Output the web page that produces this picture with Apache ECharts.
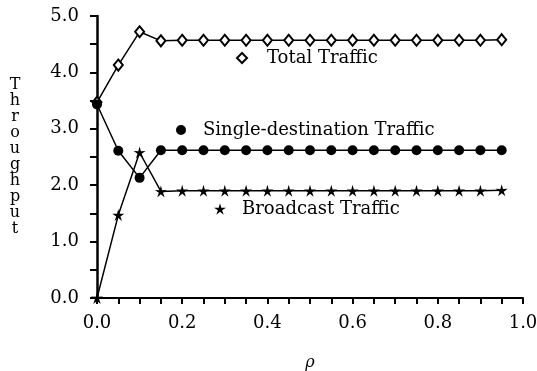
<!DOCTYPE html>
<html>
<head>
<meta charset="utf-8">
<script src="https://cdn.jsdelivr.net/npm/echarts@6/dist/echarts.min.js"></script>
<style>
  html, body { margin: 0; padding: 0; background: #fff; }
  #chart { width: 537px; height: 371px; }
</style>
</head>
<body>
<div id="chart"></div>
<script>
// rho values (x axis)
const rho = [0.00, 0.05, 0.10, 0.15, 0.20, 0.25, 0.30, 0.35, 0.40, 0.45,
             0.50, 0.55, 0.60, 0.65, 0.70, 0.75, 0.80, 0.85, 0.90, 0.95];

// Throughput per traffic type
const totalTraffic = [3.47, 4.13, 4.72, 4.56, 4.57, 4.57, 4.57, 4.57, 4.57, 4.57,
                      4.57, 4.57, 4.57, 4.57, 4.57, 4.57, 4.57, 4.57, 4.57, 4.58];
const singleTraffic = [3.43, 2.61, 2.13, 2.62, 2.62, 2.62, 2.62, 2.62, 2.62, 2.62,
                       2.62, 2.62, 2.62, 2.62, 2.62, 2.62, 2.62, 2.62, 2.62, 2.62];
const broadcastTraffic = [0.00, 1.47, 2.58, 1.89, 1.90, 1.90, 1.90, 1.90, 1.90, 1.90,
                          1.90, 1.90, 1.90, 1.90, 1.90, 1.90, 1.90, 1.90, 1.90, 1.91];

const seriesNames = ['Total Traffic', 'Single-destination Traffic', 'Broadcast Traffic'];
const yAxisTitle = 'Throughput';
const xAxisTitle = 'ρ';

const FONT = 'DejaVu Serif';
const STAR = 'path://M0,-10 L2.06,-2.83 L9.51,-3.09 L3.33,1.08 L5.88,8.09 L0,3.5 L-5.88,8.09 L-3.33,1.08 L-9.51,-3.09 L-2.06,-2.83 Z';

const pairs = (ys) => rho.map((x, i) => [x, ys[i]]);

function legendAt(name, icon, left, top, gap, size) {
  return {
    data: [{ name: name, icon: icon }],
    left: left, top: top,
    padding: 0,
    itemWidth: size, itemHeight: size,
    selectedMode: false,
    textStyle: { fontFamily: FONT, fontSize: 18, color: '#000', padding: [0, 0, 0, gap] }
  };
}

const chart = echarts.init(document.getElementById('chart'), null, { renderer: 'canvas' });
chart.setOption({
  animation: false,
  backgroundColor: '#fff',
  grid: { left: 97, right: 14, top: 16, bottom: 73, outerBoundsMode: 'none', containLabel: false },
  legend: [
    legendAt(seriesNames[0], 'emptyDiamond', 236, 49, 15, 10),
    legendAt(seriesNames[1], 'circle', 176, 121, 12, 10),
    legendAt(seriesNames[2], STAR, 214, 200, 11, 12)
  ],
  xAxis: {
    type: 'value', min: 0, max: 1, interval: 0.05,
    name: xAxisTitle, nameLocation: 'middle', nameGap: 57,
    nameTextStyle: { fontFamily: FONT, fontSize: 16, fontStyle: 'italic', color: '#000' },
    axisLine: { lineStyle: { color: '#000', width: 2 } },
    axisTick: { length: 6, lineStyle: { color: '#000', width: 2 } },
    splitLine: { show: false },
    axisLabel: {
      fontFamily: FONT, fontSize: 18, color: '#000', margin: 16,
      formatter: v => (Math.round(v * 100) % 20 === 0 ? v.toFixed(1) : '')
    }
  },
  yAxis: {
    type: 'value', min: 0, max: 5, interval: 0.5,
    name: yAxisTitle.split('').join('\n'), nameLocation: 'middle', nameGap: 82, nameRotate: 0,
    nameTextStyle: { fontFamily: FONT, fontSize: 16, color: '#000', lineHeight: 16, align: 'center' },
    axisLine: { show: true, lineStyle: { color: '#000', width: 2.5 } },
    axisTick: { show: true, length: 7, lineStyle: { color: '#000', width: 2 } },
    splitLine: { show: false },
    axisLabel: {
      fontFamily: FONT, fontSize: 18, color: '#000', margin: 18,
      formatter: v => (Math.round(v * 10) % 10 === 0 ? v.toFixed(1) : '')
    }
  },
  series: [
    {
      name: seriesNames[0], type: 'line', data: pairs(totalTraffic),
      symbol: 'emptyDiamond', symbolSize: [9, 11],
      lineStyle: { color: '#000', width: 1.5 },
      itemStyle: { color: '#000', borderWidth: 1.3 }
    },
    {
      name: seriesNames[1], type: 'line', data: pairs(singleTraffic),
      symbol: 'circle', symbolSize: 10,
      lineStyle: { color: '#000', width: 1.5 },
      itemStyle: { color: '#000' }
    },
    {
      name: seriesNames[2], type: 'line', data: pairs(broadcastTraffic),
      symbol: STAR, symbolSize: 12,
      lineStyle: { color: '#000', width: 1.5 },
      itemStyle: { color: '#000' }
    }
  ]
});
</script>
</body>
</html>
